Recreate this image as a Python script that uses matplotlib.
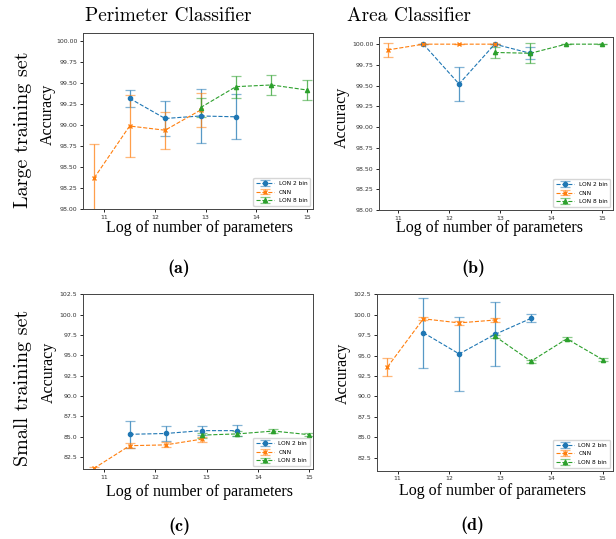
import numpy as np
import matplotlib
matplotlib.use("Agg")
import matplotlib.pyplot as plt

W, H = 616, 539

x_cnn = [10.8, 11.5, 12.2, 12.9]
x_lon2 = [11.5, 12.2, 12.9, 13.6]
x_lon8 = [12.9, 13.6, 14.3, 15.0]

# (a) perimeter classifier, large training set
lon2_a = [99.32, 99.08, 99.11, 99.10]
lon2_a_err = [0.10, 0.21, 0.32, 0.27]
cnn_a = [98.37, 98.99, 98.94, 99.18]
cnn_a_err = [0.40, 0.37, 0.22, 0.20]
lon8_a = [99.21, 99.46, 99.48, 99.42]
lon8_a_err = [0.11, 0.13, 0.12, 0.12]

# (b) area classifier, large training set
lon2_b = [100.0, 99.52, 100.0, 99.89]
lon2_b_err = [0.0, 0.20, 0.0, 0.07]
cnn_b = [99.93, 100.0, 100.0, 100.0]
cnn_b_err = [0.09, 0.0, 0.0, 0.0]
lon8_b = [99.90, 99.89, 100.0, 100.0]
lon8_b_err = [0.07, 0.12, 0.0, 0.0]

# (c) perimeter classifier, small training set
lon2_c = [85.3, 85.4, 85.75, 85.75]
lon2_c_err = [1.65, 0.95, 0.55, 0.65]
cnn_c = [81.1, 83.9, 84.0, 84.7]
cnn_c_err = [0.2, 0.3, 0.3, 0.3]
lon8_c = [85.2, 85.35, 85.7, 85.25]
lon8_c_err = [0.3, 0.3, 0.3, 0.2]

# (d) area classifier, small training set
lon2_d = [97.8, 95.2, 97.6, 99.55]
lon2_d_err = [4.3, 4.5, 3.9, 0.5]
cnn_d = [93.6, 99.5, 99.0, 99.35]
cnn_d_err = [1.05, 0.2, 0.2, 0.2]
lon8_d = [97.35, 94.3, 97.05, 94.5]
lon8_d_err = [0.2, 0.2, 0.2, 0.2]

labels = ["LON 2 bin", "CNN", "LON 8 bin"]


def fx(px):
    return px / W


def fy(py):
    return 1 - py / H


def rect(l, t, r, b):
    return [fx(l), fy(b), (r - l) / W, (b - t) / H]


def errplot(ax, x, y, e, fmt, color, label):
    eb = ax.errorbar(x, y, yerr=e, fmt=fmt, color=color, lw=0.8, ms=3,
                     capsize=3.5, elinewidth=0.9, capthick=0.9, label=label)
    for c in eb[1]:
        c.set_alpha(0.55)
    for b in eb[2]:
        b.set_alpha(0.75)


def panel(rc, lon2, lon2e, cnn, cnne, lon8, lon8e, xlim, ylim, yticks, yfmt):
    ax = fig.add_axes(rect(*rc))
    errplot(ax, x_lon2, lon2, lon2e, "o--", "C0", labels[0])
    errplot(ax, x_cnn, cnn, cnne, "x--", "C1", labels[1])
    errplot(ax, x_lon8, lon8, lon8e, "^--", "C2", labels[2])
    ax.set_xlim(xlim)
    ax.set_ylim(ylim)
    ax.set_xticks([11, 12, 13, 14, 15])
    ax.set_yticks(yticks)
    ax.set_yticklabels([yfmt.format(v) for v in yticks])
    ax.tick_params(labelsize=4.5, length=2, width=0.6, pad=2, labelcolor="#333333")
    for s in ax.spines.values():
        s.set_linewidth(0.7)
        s.set_color("#444444")
    ax.legend(loc="lower right", fontsize=4.2, handlelength=3, borderpad=0.5,
              labelspacing=0.6)
    return ax


fig = plt.figure(figsize=(W / 100, H / 100), dpi=100)

yt_large = np.arange(98.0, 100.01, 0.25)
yt_small = np.arange(82.5, 102.51, 2.5)

panel((83, 33, 313, 209), lon2_a, lon2_a_err, cnn_a, cnn_a_err, lon8_a, lon8_a_err,
      (10.58, 15.12), (98.0, 100.1), yt_large, "{:.2f}")
panel((379, 36.7, 613, 210), lon2_b, lon2_b_err, cnn_b, cnn_b_err, lon8_b, lon8_b_err,
      (10.63, 15.22), (98.0, 100.09), yt_large, "{:.2f}")
panel((82.7, 294.3, 312.7, 469.3), lon2_c, lon2_c_err, cnn_c, cnn_c_err, lon8_c, lon8_c_err,
      (10.585, 15.065), (81.0, 102.5), yt_small, "{:.1f}")
panel((376.7, 294.3, 612.7, 470.7), lon2_d, lon2_d_err, cnn_d, cnn_d_err, lon8_d, lon8_d_err,
      (10.59, 15.195), (80.9, 102.5), yt_small, "{:.1f}")

serif = "Liberation Serif"
for x, y in [(48, 114), (342, 117), (49, 372), (343, 373)]:
    fig.text(fx(x), fy(y), "Accuracy", family=serif, fontsize=11.5,
             rotation=90, ha="center", va="center")
for x, y in [(199, 228), (490, 228), (199.5, 491.5), (492.5, 491)]:
    fig.text(fx(x), fy(y), "Log of number of parameters", family=serif,
             fontsize=11.5, ha="center", va="center")

fig.text(fx(168), fy(16), "Perimeter Classifier", family="cmr10", fontsize=14,
         ha="center", va="center")
fig.text(fx(409), fy(16), "Area Classifier", family="cmr10", fontsize=14,
         ha="center", va="center")
fig.text(fx(23), fy(130), "Large training set", family="cmr10", fontsize=14.5,
         rotation=90, ha="center", va="center")
fig.text(fx(23), fy(387.5), "Small training set", family="cmr10", fontsize=14.5,
         rotation=90, ha="center", va="center")

for s, x, y in [("(a)", 179, 268), ("(b)", 473, 268), ("(c)", 179, 526), ("(d)", 472, 525)]:
    fig.text(fx(x), fy(y), s, family="cmb10", fontsize=13, ha="center", va="center")

fig.savefig("out.png", dpi=100)
